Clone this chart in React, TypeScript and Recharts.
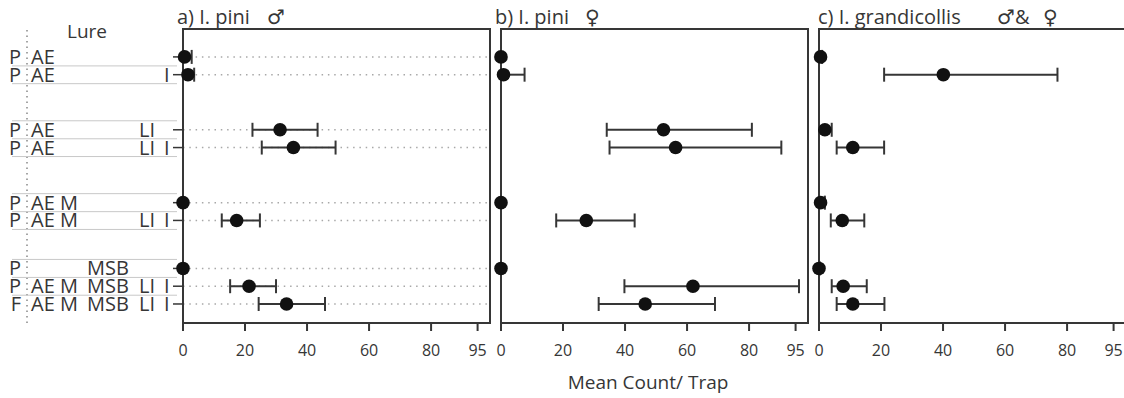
import React from "react";
import {
  ScatterChart,
  Scatter,
  XAxis,
  YAxis,
  CartesianGrid,
  ErrorBar,
  ReferenceArea,
} from "recharts";

// lure blend, one entry per row (top to bottom)
const lureBase = ["P", "P", "P", "P", "P", "P", "P", "P", "F"];
const lureAE = ["AE", "AE", "AE", "AE", "AE M", "AE M", "", "AE M", "AE M"];
const lureMSB = ["", "", "", "", "", "", "MSB", "MSB", "MSB"];
const lureLI = ["", "", "LI", "LI", "", "LI", "", "LI", "LI"];
const lureI = ["", "I", "", "I", "", "I", "", "I", "I"];
const lureGroup = [0, 0, 1, 1, 2, 2, 3, 3, 3];

const xTicks = [0, 20, 40, 60, 80, 95];

// a) I. pini male
const piniMaleMean = [0.5, 1.6, 31.3, 35.6, 0, 17.3, 0, 21.3, 33.4];
const piniMaleLow = [0, 0, 22.4, 25.4, 0, 12.5, 0, 15.2, 24.4];
const piniMaleHigh = [2.8, 3.6, 43.4, 49.2, 0, 24.8, 0, 30, 45.8];

// b) I. pini female
const piniFemaleMean = [0, 0.8, 52.4, 56.3, 0, 27.5, 0, 61.9, 46.5];
const piniFemaleLow = [0, 0, 34.1, 35, 0, 17.8, 0, 39.8, 31.5];
const piniFemaleHigh = [0, 7.6, 80.9, 90.4, 0, 43.1, 0, 96.1, 69];

// c) I. grandicollis male & female
const grandMean = [0.5, 40.1, 1.9, 10.9, 0.5, 7.5, 0, 7.8, 10.9];
const grandLow = [0, 21, 0, 5.7, 0, 3.8, 0, 4.1, 5.7];
const grandHigh = [1, 76.9, 4.1, 21, 1.9, 14.6, 0.3, 15.4, 21.1];

// extra space (in row units) before each group of lures
const groupOffset = [0, 2.1, 4.2, 5.9];
const positions = lureGroup.map((g, i) => i + groupOffset[g]);
const yDomain = [-1.57, 14.97];
const xDomain = [0, 99];

const ink = "#363636";
const font = "'Open Sans', 'DejaVu Sans', sans-serif";
const plotW = 307;

function rows(mean: number[], low: number[], high: number[]) {
  return mean.map((m, i) => ({
    pos: positions[i],
    mean: m,
    err: [m - low[i], high[i] - m],
  }));
}

const Dot = (p: any) => <circle cx={p.cx} cy={p.cy} r={6.8} fill="#111" />;

const LureTick = (props: any) => {
  const { y, payload } = props;
  const i = positions.indexOf(payload.value);
  if (i < 0) return null;
  const firstInGroup = i > 0 && lureGroup[i - 1] !== lureGroup[i];
  const txt = { fontSize: 20, fill: ink, fontFamily: font };
  return (
    <g>
      {i < positions.length - 1 && (
        <line x1={12} x2={177} y1={y + 9} y2={y + 9} stroke="#c8c8c8" />
      )}
      {firstInGroup && (
        <line x1={12} x2={177} y1={y - 9} y2={y - 9} stroke="#c8c8c8" />
      )}
      <text x={21} y={y + 7} textAnchor="end" {...txt}>
        {lureBase[i]}
      </text>
      <text x={31} y={y + 7} {...txt}>
        {lureAE[i]}
      </text>
      <text x={87} y={y + 7} {...txt}>
        {lureMSB[i]}
      </text>
      <text x={139} y={y + 7} {...txt}>
        {lureLI[i]}
      </text>
      <text x={164} y={y + 7} {...txt}>
        {lureI[i]}
      </text>
    </g>
  );
};

function Panel({
  left,
  data,
  yWidth,
  labels,
}: {
  left: number;
  data: any[];
  yWidth: number;
  labels?: boolean;
}) {
  return (
    <div style={{ position: "absolute", left, top: 0 }}>
      <ScatterChart
        width={yWidth + plotW + 4}
        height={398}
        margin={{ top: 29, right: 4, bottom: 45, left: 0 }}
      >
        <CartesianGrid
          horizontal={true}
          vertical={false}
          stroke="#a8a8a8"
          strokeWidth={1.5}
          strokeDasharray="1.5 4.8"
        />
        <XAxis
          type="number"
          dataKey="mean"
          domain={xDomain}
          ticks={xTicks}
          interval={0}
          height={30}
          tickSize={8}
          tickMargin={14}
          axisLine={{ stroke: ink, strokeWidth: 2 }}
          tickLine={{ stroke: ink, strokeWidth: 2 }}
          tick={{ fontSize: 16, fill: ink, fontFamily: font }}
        />
        <YAxis
          type="number"
          dataKey="pos"
          domain={yDomain}
          reversed
          ticks={positions}
          interval={0}
          width={yWidth}
          tickSize={10}
          axisLine={{ stroke: ink, strokeWidth: 2 }}
          tickLine={{ stroke: ink, strokeWidth: 1.5 }}
          tick={labels ? LureTick : false}
        />
        <ReferenceArea
          x1={xDomain[0]}
          x2={xDomain[1]}
          y1={yDomain[0]}
          y2={yDomain[1]}
          fill="none"
          fillOpacity={0}
          stroke={ink}
          strokeWidth={2}
        />
        <Scatter data={data} isAnimationActive={false} shape={Dot}>
          <ErrorBar
            dataKey="err"
            direction="x"
            width={7}
            stroke={ink}
            strokeWidth={2}
          />
        </Scatter>
      </ScatterChart>
    </div>
  );
}

export default function App() {
  const title = { fontSize: 20, fill: ink, fontFamily: font };
  return (
    <div
      style={{
        position: "absolute",
        left: 0,
        top: 0,
        width: 1124,
        height: 398,
        overflow: "hidden",
        background: "#fff",
      }}
    >
      <svg
        width={1124}
        height={398}
        style={{ position: "absolute", left: 0, top: 0 }}
      >
        <line
          x1={27}
          x2={27}
          y1={30}
          y2={326}
          stroke="#888"
          strokeWidth={1.5}
          strokeDasharray="1.5 4"
        />
        <text x={67} y={38} fontSize={19} fill={ink} fontFamily={font}>
          Lure
        </text>
      </svg>
      <Panel
        left={0}
        yWidth={183}
        labels
        data={rows(piniMaleMean, piniMaleLow, piniMaleHigh)}
      />
      <Panel
        left={489}
        yWidth={12}
        data={rows(piniFemaleMean, piniFemaleLow, piniFemaleHigh)}
      />
      <Panel left={807} yWidth={12} data={rows(grandMean, grandLow, grandHigh)} />
      <svg
        width={1124}
        height={398}
        style={{ position: "absolute", left: 0, top: 0, pointerEvents: "none" }}
      >
        <text x={177} y={24} {...title}>
          a) I. pini
        </text>
        <text x={267} y={24} {...title}>
          ♂
        </text>
        <text x={495} y={24} {...title}>
          b) I. pini
        </text>
        <text x={585} y={24} {...title}>
          ♀
        </text>
        <text x={818} y={24} {...title}>
          c) I. grandicollis
        </text>
        <text x={997} y={24} {...title}>
          ♂&amp;
        </text>
        <text x={1043} y={24} {...title}>
          ♀
        </text>
        <text
          x={648}
          y={389}
          textAnchor="middle"
          fontSize={19}
          fill={ink}
          fontFamily={font}
        >
          Mean Count/ Trap
        </text>
      </svg>
    </div>
  );
}
